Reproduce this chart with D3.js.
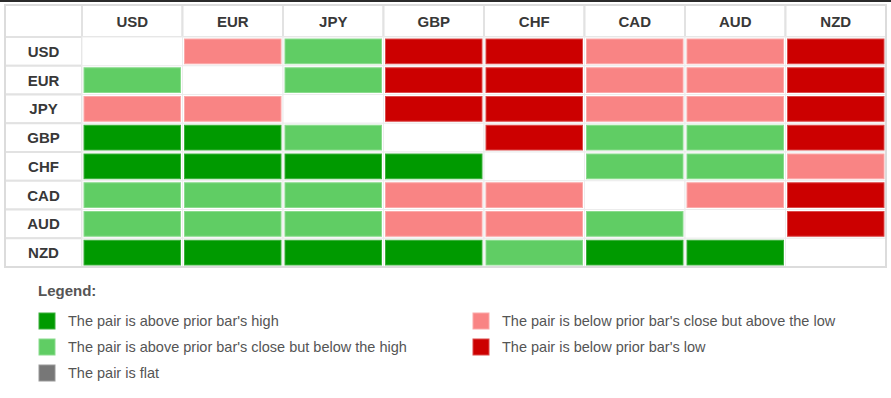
<!DOCTYPE html>
<html>
<head>
<meta charset="utf-8">
<script src="https://cdn.jsdelivr.net/npm/d3@7"></script>
<style>
  html, body { margin: 0; padding: 0; background: #fff; }
  svg { display: block; font-family: "Liberation Sans", Arial, sans-serif; }
</style>
</head>
<body>
<svg id="chart" width="891" height="398"></svg>
<script>
// currencies (rows = base, columns = quote)
const currencies = ["USD", "EUR", "JPY", "GBP", "CHF", "CAD", "AUD", "NZD"];

// state codes: 2 = above high, 1 = above close, 0 = flat, -1 = below close, -2 = below low, null = same pair
const rowUSD = [null, -1, 1, -2, -2, -1, -1, -2];
const rowEUR = [1, null, 1, -2, -2, -1, -1, -2];
const rowJPY = [-1, -1, null, -2, -2, -1, -1, -2];
const rowGBP = [2, 2, 1, null, -2, 1, 1, -2];
const rowCHF = [2, 2, 2, 2, null, 1, 1, -1];
const rowCAD = [1, 1, 1, -1, -1, null, -1, -2];
const rowAUD = [1, 1, 1, -1, -1, 1, null, -2];
const rowNZD = [2, 2, 2, 2, 1, 2, 2, null];

const legendCodes = [2, 1, 0, -1, -2];
const legendLabels = [
  "The pair is above prior bar's high",
  "The pair is above prior bar's close but below the high",
  "The pair is flat",
  "The pair is below prior bar's close but above the low",
  "The pair is below prior bar's low"
];

const rows = [rowUSD, rowEUR, rowJPY, rowGBP, rowCHF, rowCAD, rowAUD, rowNZD];
const cells = [];
rows.forEach((r, i) => r.forEach((v, j) => {
  cells.push({ row: currencies[i], col: currencies[j], v });
}));

const color = d3.scaleOrdinal()
  .domain([2, 1, 0, -1, -2])
  .range(["#009a00", "#60cd64", "#777777", "#f98484", "#cc0000"]);
const edge = d3.scaleOrdinal()
  .domain([2, 1, 0, -1, -2])
  .range(["#3cb03c", "#8adb8d", "#999999", "#fba9a9", "#dc4a4a"]);

const svg = d3.select("#chart");

// top dark strip
svg.append("rect").attr("x", 0).attr("y", 0).attr("width", 891).attr("height", 2).attr("fill", "#2a2a2a");

const tLeft = 5, labelW = 77, tRight = 886, tTop = 5, headH = 32, tBottom = 267;

const x = d3.scaleBand().domain(currencies).range([tLeft + labelW, tRight]);
const y = d3.scaleBand().domain(currencies).range([tTop + headH, tBottom]);

const grid = svg.append("g");

// table shadow + background
grid.append("rect")
  .attr("x", tLeft + 1).attr("y", tTop + 1)
  .attr("width", tRight - tLeft).attr("height", tBottom - tTop)
  .attr("fill", "#e6e6e6");
grid.append("rect")
  .attr("x", tLeft).attr("y", tTop)
  .attr("width", tRight - tLeft).attr("height", tBottom - tTop)
  .attr("fill", "#fff");

// header cells
grid.selectAll(".hcell")
  .data(currencies)
  .join("rect")
  .attr("x", d => x(d)).attr("y", tTop)
  .attr("width", x.bandwidth()).attr("height", headH)
  .attr("fill", "#fff").attr("stroke", "#e2e2e2").attr("stroke-width", 2);
grid.append("rect")
  .attr("x", tLeft).attr("y", tTop).attr("width", labelW).attr("height", headH)
  .attr("fill", "#fff").attr("stroke", "#e2e2e2").attr("stroke-width", 2);

// row label cells
grid.selectAll(".rcell")
  .data(currencies)
  .join("rect")
  .attr("x", tLeft).attr("y", d => y(d))
  .attr("width", labelW).attr("height", y.bandwidth())
  .attr("fill", "#fff").attr("stroke", "#e2e2e2").attr("stroke-width", 2);

// data cells
grid.selectAll(".cell")
  .data(cells)
  .join("rect")
  .attr("x", d => x(d.col)).attr("y", d => y(d.row))
  .attr("width", x.bandwidth()).attr("height", y.bandwidth())
  .attr("fill", "#fff").attr("stroke", "#ececec").attr("stroke-width", 1);

grid.selectAll(".fill")
  .data(cells.filter(d => d.v !== null))
  .join("rect")
  .attr("x", d => x(d.col) + 2).attr("y", d => y(d.row) + 2)
  .attr("width", x.bandwidth() - 4).attr("height", y.bandwidth() - 4)
  .attr("fill", d => color(d.v))
  .attr("stroke", d => edge(d.v)).attr("stroke-width", 1);

// outer border
grid.append("rect")
  .attr("x", tLeft).attr("y", tTop)
  .attr("width", tRight - tLeft).attr("height", tBottom - tTop)
  .attr("fill", "none").attr("stroke", "#dcdcdc").attr("stroke-width", 2);

// header text
svg.append("g").selectAll("text")
  .data(currencies)
  .join("text")
  .attr("x", d => x(d) + x.bandwidth() / 2)
  .attr("y", tTop + headH / 2 + 5.5)
  .attr("text-anchor", "middle")
  .attr("font-size", 15).attr("font-weight", "bold").attr("fill", "#383838")
  .text(d => d);

svg.append("g").selectAll("text")
  .data(currencies)
  .join("text")
  .attr("x", tLeft + labelW / 2)
  .attr("y", d => y(d) + y.bandwidth() / 2 + 5.5)
  .attr("text-anchor", "middle")
  .attr("font-size", 15).attr("font-weight", "bold").attr("fill", "#383838")
  .text(d => d);

// legend
const lg = svg.append("g");
lg.append("text")
  .attr("x", 38).attr("y", 296)
  .attr("font-size", 15).attr("font-weight", "bold").attr("fill", "#555")
  .text("Legend:");

const legendItems = legendCodes.map((c, i) => ({
  c, label: legendLabels[i],
  col: i < 3 ? 0 : 1,
  row: i < 3 ? i : i - 3
}));
const lx = d3.scaleOrdinal().domain([0, 1]).range([39, 473]);
const ly = d3.scaleLinear().domain([0, 1]).range([321, 347]);

const item = lg.selectAll(".item")
  .data(legendItems)
  .join("g")
  .attr("transform", d => `translate(${lx(d.col)},${ly(d.row)})`);
item.append("rect")
  .attr("x", 0).attr("y", -8).attr("width", 16).attr("height", 16)
  .attr("fill", d => color(d.c))
  .attr("stroke", d => edge(d.c)).attr("stroke-width", 1);
item.append("text")
  .attr("x", 29).attr("y", 5)
  .attr("font-size", 14.5).attr("fill", "#555")
  .text(d => d.label);
</script>
</body>
</html>
